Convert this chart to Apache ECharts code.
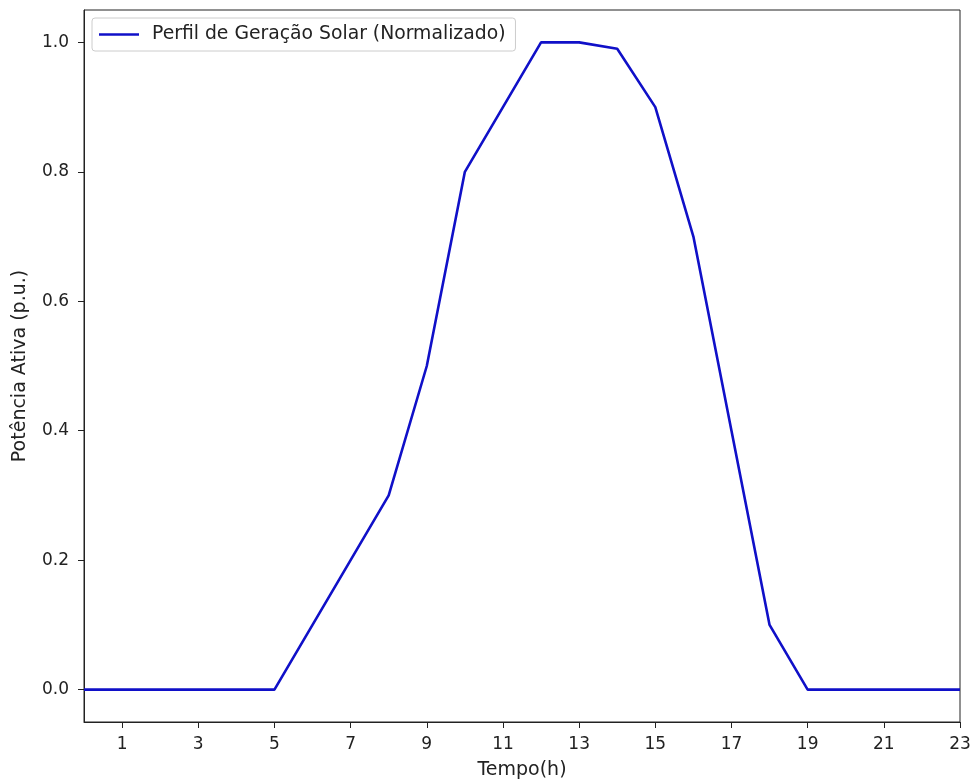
<!DOCTYPE html>
<html>
<head>
<meta charset="utf-8">
<script src="https://cdn.jsdelivr.net/npm/echarts@6/dist/echarts.min.js"></script>
<style>
  html, body { margin: 0; padding: 0; background: #fff; }
  #chart { width: 975px; height: 782px; }
</style>
</head>
<body>
<div id="chart"></div>
<script>
// Hourly solar generation profile, normalized to peak
const hours = [0, 1, 2, 3, 4, 5, 6, 7, 8, 9, 10, 11, 12, 13, 14, 15, 16, 17, 18, 19, 20, 21, 22, 23];
const solarProfile = [0, 0, 0, 0, 0, 0, 0.1, 0.2, 0.3, 0.5, 0.8, 0.9, 1.0, 1.0, 0.99, 0.9, 0.7, 0.4, 0.1, 0, 0, 0, 0, 0];
const xTicks = [1, 3, 5, 7, 9, 11, 13, 15, 17, 19, 21, 23];
const yTicks = [0, 0.2, 0.4, 0.6, 0.8, 1.0];
const seriesName = 'Perfil de Geração Solar (Normalizado)';

const font = 'DejaVu Sans';
const ink = '#222';
const lineColor = '#1010c8';
const chart = echarts.init(document.getElementById('chart'), null, { renderer: 'canvas' });

chart.setOption({
  animation: false,
  backgroundColor: '#fff',
  textStyle: { fontFamily: font },
  grid: {
    left: 84, right: 15, top: 10, bottom: 60,
    outerBoundsMode: 'none', containLabel: false,
    show: true, borderColor: ink, borderWidth: 1, backgroundColor: 'transparent'
  },
  legend: {
    left: 92, top: 18,
    padding: [7, 10, 7, 7],
    borderColor: '#cccccc', borderWidth: 1, borderRadius: 3,
    backgroundColor: 'rgba(255,255,255,0.8)',
    icon: 'rect', itemWidth: 40, itemHeight: 2.5,
    textStyle: { fontFamily: font, fontSize: 18.8, color: ink, padding: [0, 0, 0, 8] },
    data: [seriesName]
  },
  xAxis: {
    type: 'value', min: 0, max: 23,
    name: 'Tempo(h)', nameLocation: 'middle', nameGap: 39,
    nameTextStyle: { fontFamily: font, fontSize: 19, color: ink },
    axisLine: { show: true, onZero: false, lineStyle: { color: ink, width: 1 } },
    axisTick: { show: true, length: 6, customValues: xTicks, lineStyle: { color: ink } },
    axisLabel: { customValues: xTicks, fontFamily: font, fontSize: 17, color: ink, margin: 14 },
    splitLine: { show: false }
  },
  yAxis: {
    type: 'value', min: -0.05, max: 1.05,
    name: 'Potência Ativa (p.u.)', nameLocation: 'middle', nameGap: 54, nameRotate: 90,
    nameTextStyle: { fontFamily: font, fontSize: 19, color: ink },
    axisLine: { show: true, onZero: false, lineStyle: { color: ink, width: 1 } },
    axisTick: { show: true, length: 6, customValues: yTicks, lineStyle: { color: ink } },
    axisLabel: {
      customValues: yTicks, fontFamily: font, fontSize: 17, color: ink, margin: 15,
      formatter: v => v.toFixed(1)
    },
    splitLine: { show: false }
  },
  series: [{
    name: seriesName,
    type: 'line',
    data: hours.map((h, i) => [h, solarProfile[i]]),
    showSymbol: false,
    symbol: 'none',
    lineStyle: { color: lineColor, width: 2.6 },
    itemStyle: { color: lineColor }
  }]
});
</script>
</body>
</html>
